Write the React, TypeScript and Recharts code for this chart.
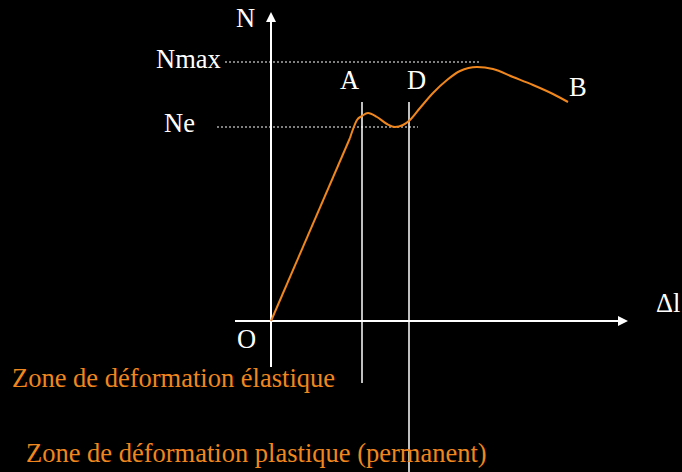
import React from 'react';
import { LineChart, Line, XAxis, YAxis, ReferenceLine, ReferenceDot } from 'recharts';

// elongation (x) / force (y), 1 unit = 10px on the slide
const elasticX = [0, 7.9];
const elasticY = [0, 18.3];
const plasticX = [7.9, 8.1, 8.6, 9.1, 9.7, 10.6, 11.6, 12.4, 13.2, 13.9, 14.9, 16.2, 17.6, 18.9, 20.6, 22.2, 24.2, 26.2, 28.2, 29.7];
const plasticY = [18.3, 18.9, 20.1, 20.5, 20.8, 20.4, 19.7, 19.4, 19.6, 20.1, 21.3, 22.8, 24.1, 25.0, 25.4, 25.2, 24.4, 23.6, 22.7, 21.9];

const nMax = 25.9;
const nE = 19.4;
const xA = 9.1;
const xD = 13.8;

const labels = [
  { text: 'N', x: -3.5, y: 29.4, color: '#fff' },
  { text: 'Nmax', x: -11.5, y: 25.3, color: '#fff' },
  { text: 'A', x: 6.9, y: 23.2, color: '#fff' },
  { text: 'D', x: 13.6, y: 23.2, color: '#fff' },
  { text: 'Ne', x: -10.7, y: 18.9, color: '#fff' },
  { text: 'B', x: 29.8, y: 22.5, color: '#fff' },
  { text: 'O', x: -3.4, y: -2.7, color: '#fff' },
  { text: 'Δl', x: 38.5, y: 0.9, color: '#fff' },
  { text: 'Zone de déformation élastique', x: -25.9, y: -6.6, color: '#F0871E' },
  { text: 'Zone de déformation plastique (permanent)', x: -24.5, y: -14.1, color: '#F0871E' },
];

const elastic = elasticX.map((x, i) => ({ x, y: elasticY[i] }));
const plastic = plasticX.map((x, i) => ({ x, y: plasticY[i] }));

const ORANGE = '#F0871E';

const Arrow = (p: any) => {
  const { x1, y1, x2, y2 } = p;
  const dx = x2 - x1;
  const dy = y2 - y1;
  const len = Math.sqrt(dx * dx + dy * dy) || 1;
  const ux = dx / len;
  const uy = dy / len;
  const bx = x2 - ux * 10;
  const by = y2 - uy * 10;
  return (
    <g>
      <line x1={x1} y1={y1} x2={bx} y2={by} stroke="#fff" strokeWidth={2} />
      <polygon
        points={`${x2},${y2} ${bx - uy * 5},${by + ux * 5} ${bx + uy * 5},${by - ux * 5}`}
        fill="#fff"
      />
    </g>
  );
};

export default function App() {
  return (
    <div style={{ position: 'absolute', left: 0, top: 0, width: 682, height: 472, background: '#000' }}>
      <LineChart width={682} height={472} margin={{ top: 0, right: 0, bottom: 0, left: 0 }}>
        <XAxis type="number" dataKey="x" domain={[-27.1, 41.1]} hide allowDataOverflow />
        <YAxis type="number" dataKey="y" domain={[-15.1, 32.1]} hide allowDataOverflow />

        <ReferenceLine segment={[{ x: -4.6, y: nMax }, { x: 20.9, y: nMax }]} stroke="#fff" strokeDasharray="2 2" strokeWidth={1} />
        <ReferenceLine segment={[{ x: -5.4, y: nE }, { x: 14.7, y: nE }]} stroke="#fff" strokeDasharray="2 2" strokeWidth={1} />

        <ReferenceLine segment={[{ x: xA, y: 21.9 }, { x: xA, y: -6.2 }]} stroke="#fff" strokeWidth={1.5} />
        <ReferenceLine segment={[{ x: xD, y: 21.9 }, { x: xD, y: -15.1 }]} stroke="#fff" strokeWidth={1.5} />

        <ReferenceLine segment={[{ x: -3.6, y: 0 }, { x: 35.7, y: 0 }]} shape={Arrow} />
        <ReferenceLine segment={[{ x: 0, y: -4.6 }, { x: 0, y: 30.9 }]} shape={Arrow} />

        <Line data={elastic} dataKey="y" type="linear" stroke={ORANGE} strokeWidth={2} dot={false} activeDot={false} isAnimationActive={false} />
        <Line data={plastic} dataKey="y" type="monotone" stroke={ORANGE} strokeWidth={2} dot={false} activeDot={false} isAnimationActive={false} />

        {labels.map((l) => (
          <ReferenceDot
            key={l.text}
            x={l.x}
            y={l.y}
            r={0}
            ifOverflow="visible"
            shape={(p: any) => (
              <text x={p.cx} y={p.cy} fill={l.color} fontFamily="Liberation Serif" fontSize={26.5}>
                {l.text}
              </text>
            )}
          />
        ))}
      </LineChart>
    </div>
  );
}
